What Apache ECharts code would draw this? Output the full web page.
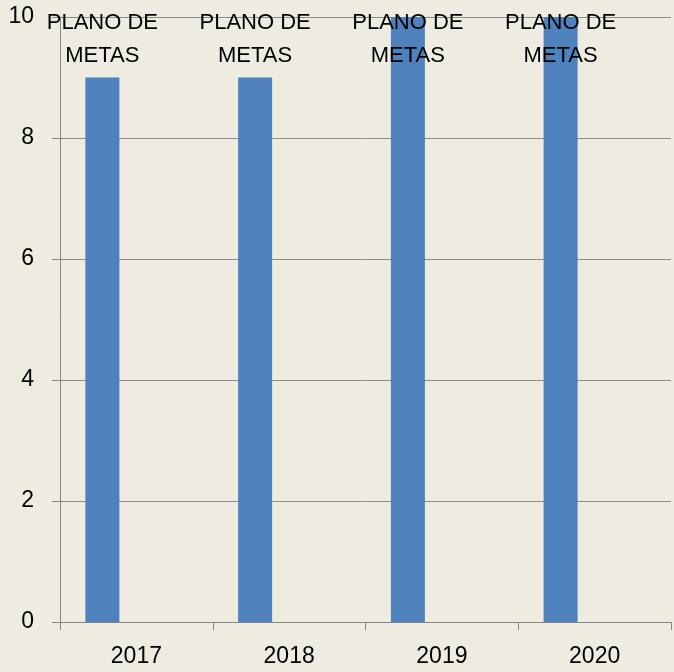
<!DOCTYPE html>
<html>
<head>
<meta charset="utf-8">
<script src="https://cdn.jsdelivr.net/npm/echarts@6/dist/echarts.min.js"></script>
<style>
  html, body { margin: 0; padding: 0; background: #eeece1; }
  #chart { width: 674px; height: 672px; }
</style>
</head>
<body>
<div id="chart"></div>
<script>
// 数据
const years = ["2017", "2018", "2019", "2020"];
const metas = [9, 9, 10, 10];
const barLabels = ["PLANO DE\nMETAS", "PLANO DE\nMETAS", "PLANO DE\nMETAS", "PLANO DE\nMETAS"];
const yTicks = [0, 2, 4, 6, 8, 10];

const chart = echarts.init(document.getElementById("chart"));

const font = "'Liberation Sans', Arial, sans-serif";
const yMax = yTicks[yTicks.length - 1];

chart.setOption({
  backgroundColor: "#eeece1",
  animation: false,
  grid: { left: 60, right: 3, top: 17, bottom: 50 },
  xAxis: {
    type: "category",
    data: years,
    axisLine: { lineStyle: { color: "#868686", width: 1 } },
    axisTick: { show: true, length: 8, lineStyle: { color: "#868686" } },
    axisLabel: { color: "#000", fontSize: 23, fontFamily: font, margin: 23 },
  },
  yAxis: {
    type: "value",
    min: yTicks[0],
    max: yMax,
    interval: 2,
    axisLine: { show: true, lineStyle: { color: "#868686", width: 1 } },
    axisTick: { show: true, length: 8, lineStyle: { color: "#868686" } },
    axisLabel: { color: "#000", fontSize: 23, fontFamily: font, margin: 26 },
    splitLine: { lineStyle: { color: "#8c8c8c", width: 1 } },
  },
  series: [
    {
      name: "Metas",
      type: "bar",
      data: metas,
      barWidth: 34,
      barGap: "0%",
      itemStyle: { color: "#4f81bd" },
      label: {
        show: true,
        formatter: (p) => barLabels[p.dataIndex],
        color: "#000",
        fontSize: 22,
        fontFamily: font,
        lineHeight: 33,
        align: "center",
      },
      // 标签固定在绘图区顶部
      labelLayout: () => {
        const top = chart.convertToPixel({ yAxisIndex: 0 }, yMax);
        return { y: top - 11, verticalAlign: "top", align: "center" };
      },
    },
    { name: "s2", type: "bar", data: [], barWidth: 34, barGap: "0%" },
    { name: "s3", type: "bar", data: [], barWidth: 34, barGap: "0%" },
  ],
});
</script>
</body>
</html>
